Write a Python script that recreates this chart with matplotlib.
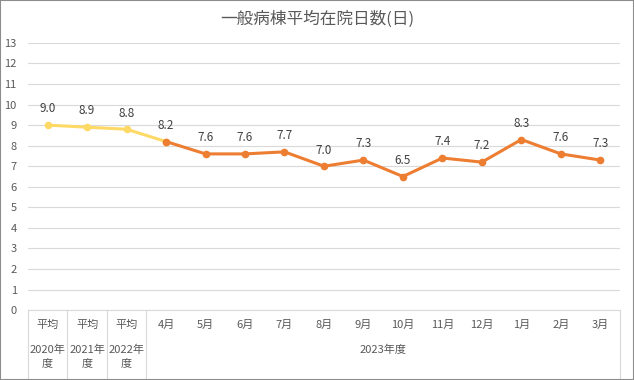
import numpy as np
import matplotlib.pyplot as plt
from matplotlib.transforms import blended_transform_factory
from matplotlib.patches import Rectangle

plt.rcParams['font.family'] = ['Noto Sans CJK JP', 'DejaVu Sans']

# データ
labels_top = ['平均', '平均', '平均', '4月', '5月', '6月', '7月', '8月', '9月',
              '10月', '11月', '12月', '1月', '2月', '3月']
labels_sub = ['2020年\n度', '2021年\n度', '2022年\n度']
group_label = '2023年度'
values = [9.0, 8.9, 8.8, 8.2, 7.6, 7.6, 7.7, 7.0, 7.3, 6.5, 7.4, 7.2, 8.3, 7.6, 7.3]
n_past = 3  # 年度平均の数

fig = plt.figure(figsize=(6.34, 3.8), dpi=100)
ax = fig.add_axes([0.044, 0.184, 0.934, 0.703])
fig.patches.append(Rectangle((0, 0), 1, 1, transform=fig.transFigure,
                             fill=False, edgecolor='#8c8c8c', linewidth=1.5))

x = np.arange(len(values))
yellow = '#FFD966'
orange = '#ED7D31'
txt = '#595959'

# 過去平均（黄）と2023年度（橙）
ax.plot(x[:n_past + 1], values[:n_past + 1], color=yellow, lw=2.2,
        marker='o', ms=4.5, zorder=3)
ax.plot(x[n_past:], values[n_past:], color=orange, lw=2.2,
        marker='o', ms=4.5, zorder=4)

for xi, v in zip(x, values):
    ax.annotate(f'{v:.1f}', (xi, v), xytext=(0, 7), textcoords='offset points',
                ha='center', va='bottom', fontsize=8.5, color='#404040')

ax.set_xlim(-0.5, len(values) - 0.5)
ax.set_ylim(0, 13)
ax.set_yticks(range(0, 14))
ax.grid(axis='y', color='#d9d9d9', lw=0.8)
ax.set_axisbelow(True)
for s in ['top', 'right', 'left']:
    ax.spines[s].set_visible(False)
ax.spines['bottom'].set_color('#d9d9d9')
ax.tick_params(axis='y', length=0, labelsize=8, labelcolor=txt, pad=8)
ax.tick_params(axis='x', length=0, labelsize=8, labelcolor=txt, pad=7)
ax.set_xticks(x)
ax.set_xticklabels(labels_top)

# 多段カテゴリ
tr = blended_transform_factory(ax.transData, ax.transAxes)
for i, s in enumerate(labels_sub):
    ax.text(i, -0.13, s, transform=tr, ha='center', va='top', fontsize=8,
            color=txt, linespacing=1.35)
ax.text((n_past + len(values) - 1) / 2, -0.13, group_label, transform=tr,
        ha='center', va='top', fontsize=8, color=txt)
for b in [-0.5, 0.5, 1.5, 2.5, len(values) - 0.5]:
    ax.plot([b, b], [0, -0.255], transform=tr, color='#d9d9d9', lw=0.8,
            clip_on=False)

fig.text(0.5, 0.95, '一般病棟平均在院日数(日)', ha='center', va='center',
         fontsize=12, color=txt)

fig.savefig('out.png', dpi=100)
